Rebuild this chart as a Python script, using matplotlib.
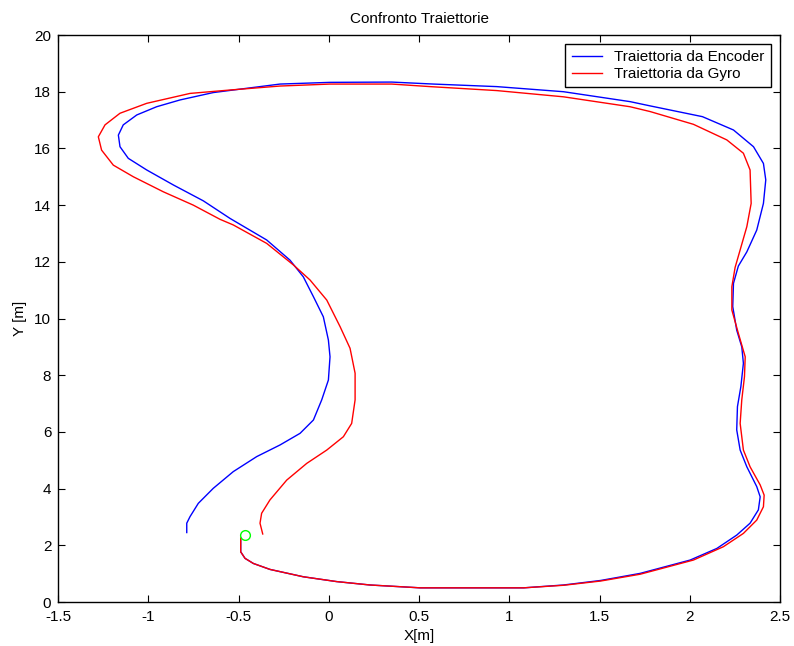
import matplotlib
matplotlib.use('Agg')
import matplotlib.pyplot as plt

# Traiettoria da Encoder (blue)
enc_x = [-0.489, -0.489, -0.465, -0.419, -0.327, -0.142, 0.043, 0.228, 0.505, 1.08,
         1.30, 1.506, 1.725, 2.002, 2.15, 2.26, 2.334, 2.38, 2.39, 2.371, 2.316,
         2.279, 2.26, 2.264, 2.283, 2.297, 2.288, 2.26, 2.238, 2.242, 2.269, 2.316,
         2.371, 2.408, 2.421, 2.408, 2.353, 2.242, 2.07, 1.78, 1.669, 1.30, 0.93,
         0.579, 0.348, 0.006, -0.271, -0.456, -0.641, -0.825, -0.955, -1.065,
         -1.14, -1.167, -1.158, -1.112, -1.01, -0.862, -0.696, -0.548, -0.345,
         -0.216, -0.142, -0.086, -0.031, -0.003, 0.006, -0.003, -0.04, -0.086,
         -0.16, -0.271, -0.4, -0.53, -0.641, -0.724, -0.77, -0.788, -0.788]
enc_y = [2.25, 1.77, 1.54, 1.36, 1.15, 0.89, 0.72, 0.60, 0.50, 0.50,
         0.60, 0.76, 1.01, 1.48, 1.89, 2.36, 2.78, 3.25, 3.71, 4.07, 4.77,
         5.36, 6.07, 6.89, 7.60, 8.42, 9.0, 9.59, 10.42, 11.24, 11.85, 12.35,
         13.12, 14.06, 14.89, 15.47, 16.06, 16.65, 17.12, 17.50, 17.65, 18.0, 18.18,
         18.27, 18.34, 18.33, 18.27, 18.12, 17.97, 17.71, 17.47, 17.18,
         16.83, 16.47, 16.06, 15.65, 15.24, 14.71, 14.15, 13.53, 12.77,
         12.06, 11.47, 10.77, 10.06, 9.24, 8.65, 7.83, 7.13, 6.42,
         5.95, 5.54, 5.13, 4.60, 4.01, 3.48, 3.01, 2.78, 2.45]

# Traiettoria da Gyro (red)
gyro_x = [-0.489, -0.489, -0.465, -0.419, -0.327, -0.142, 0.043, 0.228, 0.505, 1.08,
          1.30, 1.506, 1.725, 2.02, 2.186, 2.297, 2.371, 2.408, 2.412, 2.39, 2.334,
          2.297, 2.279, 2.288, 2.303, 2.307, 2.269, 2.233, 2.233, 2.251, 2.279,
          2.316, 2.34, 2.334, 2.297, 2.205, 2.02, 1.78, 1.669, 1.30, 0.93, 0.56,
          0.348, 0.006, -0.271, -0.548, -0.77, -1.01, -1.158, -1.241, -1.278,
          -1.26, -1.195, -1.084, -0.918, -0.752, -0.604, -0.53, -0.345, -0.197,
          -0.105, -0.012, 0.062, 0.117, 0.145, 0.145, 0.126, 0.08, -0.012,
          -0.123, -0.234, -0.327, -0.373, -0.382, -0.367]
gyro_y = [2.25, 1.77, 1.54, 1.36, 1.15, 0.89, 0.72, 0.60, 0.50, 0.50,
          0.59, 0.74, 0.98, 1.48, 1.95, 2.42, 2.89, 3.36, 3.77, 4.13, 4.77,
          5.36, 6.30, 7.13, 7.95, 8.65, 9.48, 10.3, 11.12, 11.8, 12.42,
          13.24, 14.06, 15.24, 15.83, 16.30, 16.85, 17.30, 17.47, 17.82, 18.04, 18.18,
          18.27, 18.27, 18.2, 18.06, 17.94, 17.59, 17.24, 16.83, 16.41,
          15.94, 15.41, 15.0, 14.47, 14.0, 13.5, 13.3, 12.65, 11.89,
          11.36, 10.65, 9.71, 8.95, 8.07, 7.13, 6.30, 5.83, 5.36,
          4.89, 4.30, 3.60, 3.13, 2.78, 2.40]

start_x = [-0.463]
start_y = [2.36]

x_ticks = [-1.5, -1, -0.5, 0, 0.5, 1, 1.5, 2, 2.5]
x_tick_labels = ['-1.5', '-1', '-0.5', '0', '0.5', '1', '1.5', '2', '2.5']
y_ticks = [0, 2, 4, 6, 8, 10, 12, 14, 16, 18, 20]

plt.rcParams['font.family'] = ['Liberation Sans', 'DejaVu Sans']

fig = plt.figure(figsize=(7.94, 6.46), dpi=100)
ax = fig.add_axes([0.0734, 0.0681, 0.9090, 0.8777])

ax.plot(enc_x, enc_y, color='#0000ff', lw=1.0, label='Traiettoria da Encoder')
ax.plot(gyro_x, gyro_y, color='#ff0000', lw=1.0, label='Traiettoria da Gyro')
ax.plot(start_x, start_y, 'o', mfc='none', mec='#00ff00', ms=7, mew=1.0)

ax.set_xlim(-1.5, 2.5)
ax.set_ylim(0, 20)
ax.set_xticks(x_ticks)
ax.set_xticklabels(x_tick_labels)
ax.set_yticks(y_ticks)
ax.tick_params(direction='in', top=True, right=True, labelsize=11, length=5, width=0.8)
ax.tick_params(axis='x', pad=6)
ax.tick_params(axis='y', pad=5)
for s in ax.spines.values():
    s.set_linewidth(1.0)

ax.set_xlabel('X[m]', fontsize=11, labelpad=3)
ax.set_ylabel('Y [m]', fontsize=11, labelpad=5)
ax.set_title('Confronto Traiettorie', fontsize=11, pad=9)

leg = ax.legend(loc='upper right', fontsize=11, fancybox=False, framealpha=1,
                edgecolor='black', handlelength=2.0, borderaxespad=0.6,
                handletextpad=0.8, borderpad=0.4, labelspacing=0.2)
leg.get_frame().set_linewidth(1.0)

fig.savefig('out.png', dpi=100)
